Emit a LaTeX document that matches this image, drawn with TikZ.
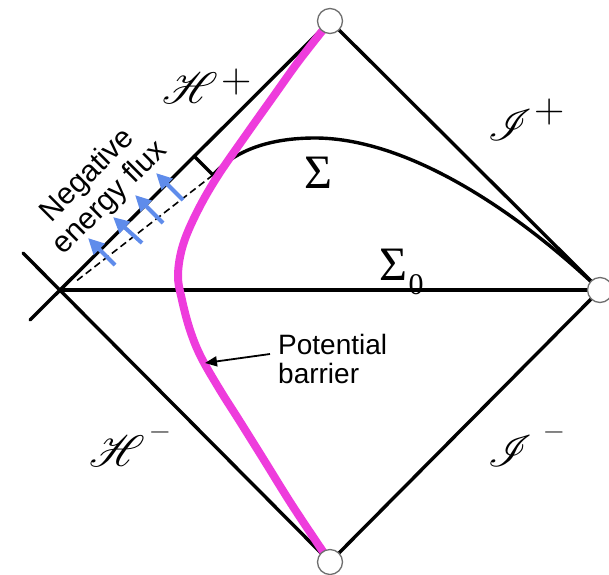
\documentclass[tikz,border=0pt]{standalone}
\usepackage{graphicx}
\usepackage{fontspec}
\setmainfont{Liberation Sans}
\newfontfamily\serifsig{Liberation Serif}
\newfontfamily\lmr{Latin Modern Roman}
\usepackage{mathrsfs}
\usetikzlibrary{arrows.meta}
\definecolor{barrier}{RGB}{238,60,220}
\definecolor{fluxblue}{RGB}{95,140,235}
\definecolor{ringgray}{RGB}{110,110,110}
\newcommand{\bigscr}[1]{\scalebox{4.4}{$\mathscr{#1}$}}
\tikzset{
  bl/.style={line width=3.4pt, line cap=round},
  magline/.style={line width=8pt, barrier},
  fluxarrow/.style={line width=4pt, fluxblue, -{Triangle[length=16pt,width=15pt]}},
  ring/.style={circle, draw=ringgray, line width=1.3pt, fill=white, minimum size=25pt, inner sep=0pt},
  sans/.style={font=\fontsize{30}{32}\selectfont, inner sep=0pt},
  scr/.style={font=\fontsize{10}{12}\selectfont, inner sep=0pt},
  plussgn/.style={inner sep=0pt, font=\fontsize{42}{42}\selectfont\lmr},
  minussgn/.style={inner sep=0pt, font=\fontsize{28}{28}\selectfont\lmr}
}
\begin{document}
\begin{tikzpicture}[x=1pt,y=-1pt]
\useasboundingbox (0,0) rectangle (609,574);
\coordinate (L) at (60,290);
\coordinate (T) at (330,21);
\coordinate (R) at (600,290);
\coordinate (B) at (330,562);
\coordinate (Lup) at (23,253);
\coordinate (Ldn) at (30,320);
\coordinate (foot) at (194,156);
\coordinate (corner) at (213,175);
\coordinate (dashend) at (75,282);
\coordinate (peak) at (315,138);
% diamond
\draw[bl] (Ldn) -- (T) -- (R) -- (B) -- (Lup);
\draw[bl] (L) -- (R);
% Sigma curve and right angle
\draw[bl] (foot) -- (corner);
\draw[bl] (corner) .. controls (235,150) and (270,138) .. (peak)
  .. controls (400,138) and (505,200) .. (R);
\draw[line width=1.6pt, dash pattern=on 7pt off 4pt] (corner) -- (dashend);
% magenta barrier
\draw[magline] plot[smooth, tension=0.6] coordinates {(323,30) (298,62) (273,97) (246,135) (217,177) (197,212) (183,245) (178,275) (182,300) (190,330) (201,357) (220,390) (239,420) (264,460) (292,505) (324,553)};
% flux arrows
\coordinate (a1t) at (115,265); \coordinate (a1h) at (88,238);
\coordinate (a2t) at (142,243); \coordinate (a2h) at (113,217);
\coordinate (a3t) at (163,223); \coordinate (a3h) at (135,195);
\coordinate (a4t) at (183,200); \coordinate (a4h) at (156,173);
\draw[fluxarrow] (a1t) -- (a1h);
\draw[fluxarrow] (a2t) -- (a2h);
\draw[fluxarrow] (a3t) -- (a3h);
\draw[fluxarrow] (a4t) -- (a4h);
% circles
\node[ring] (cT) at (T) {};
\node[ring] (cR) at (R) {};
\node[ring] (cB) at (B) {};
% texts
\node[sans, align=center, rotate=45] (neg) at (99,187) {Negative\\energy flux};
\node[sans, font=\fontsize{28}{29}\selectfont, align=left, anchor=north west] (pot) at (278,334) {Potential\\barrier};
\coordinate (potarrow) at (205,363);
\draw[line width=1.8pt, -{Triangle[length=12pt,width=10pt]}] (270,354) -- (potarrow);
\node[inner sep=0pt, font=\fontsize{48}{48}\selectfont\serifsig] (sig) at (318,173) {Σ};
\node[inner sep=0pt, font=\fontsize{48}{48}\selectfont\serifsig] (sig0) at (393,265) {Σ};
\node[inner sep=0pt, font=\fontsize{30}{30}\selectfont\serifsig] (sig0sub) at (416,285) {0};
\node[scr] (Hp) at (190,88) {\bigscr{H}};
\node[plussgn] (Hpsign) at (237,82) {+};
\node[scr] (Jp) at (510,125) {\bigscr{I}};
\node[plussgn] (Jpsign) at (550,112) {+};
\node[scr] (Hm) at (117,451) {\bigscr{H}};
\node[minussgn] (Hmsign) at (160,436) {−};
\node[scr] (Jm) at (510,451) {\bigscr{I}};
\node[minussgn] (Jmsign) at (554,436) {−};
\end{tikzpicture}
\end{document}
